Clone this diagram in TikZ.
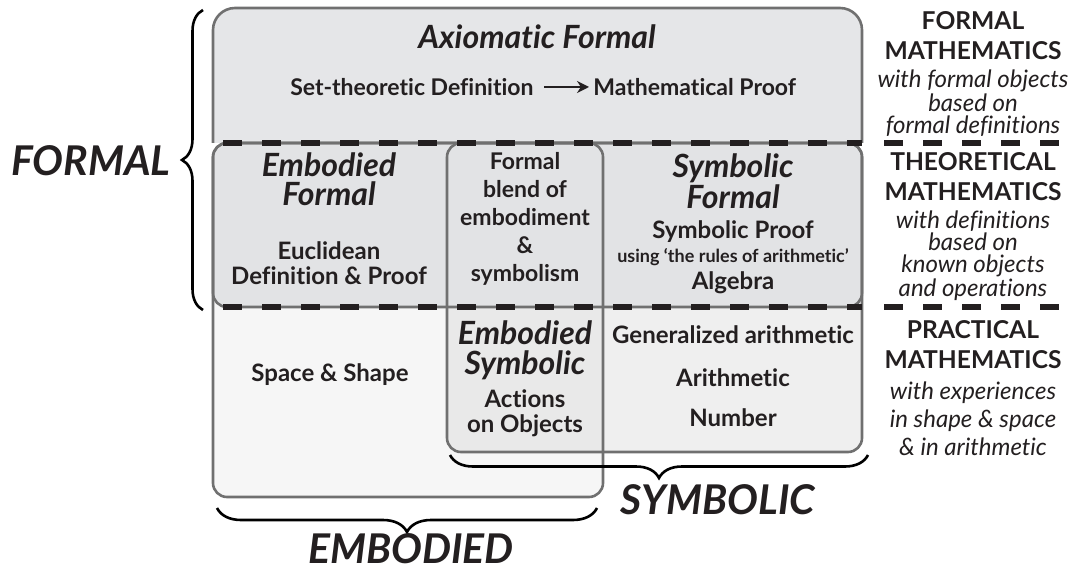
\documentclass[tikz,border=0pt]{standalone}
\usepackage{fontspec}
\setmainfont{Lato}[Ligatures=NoCommon]
\usetikzlibrary{arrows.meta,decorations.pathreplacing}
\definecolor{AxFill}{HTML}{E5E6E8}
\definecolor{FmFill}{HTML}{E2E3E5}
\definecolor{EmFill}{HTML}{F6F6F6}
\definecolor{SyFill}{HTML}{EFEFEF}
\definecolor{EsFill}{HTML}{E9E9E9}
\definecolor{BoxLine}{HTML}{707070}
\definecolor{Ink}{HTML}{231F20}

\begin{document}
\begin{tikzpicture}[x=0.5pt,y=-0.5pt,
  boxline/.style={draw=BoxLine,line width=1.3pt},
  cut/.style={draw=Ink,line width=2.6pt,dash pattern=on 9.5pt off 10pt},
  head/.style={font=\fontsize{16}{14.5}\selectfont\bfseries\itshape,align=center,inner sep=0pt,text=Ink},
  body/.style={font=\fontsize{12}{12.5}\selectfont\bfseries,align=center,inner sep=0pt,text=Ink},
  huge/.style={font=\fontsize{20.5}{22}\selectfont\bfseries\itshape,inner sep=0pt,text=Ink},
  coltitle/.style={font=\fontsize{12.3}{15}\selectfont\bfseries,align=center,inner sep=0pt,text=Ink},
  coldesc/.style={font=\fontsize{12}{11}\selectfont\itshape,align=center,inner sep=0pt,text=Ink},
  curly/.style={decorate,draw=black,line width=1.3pt},
]
\useasboundingbox (0,0) rectangle (1080,571);
% corners of the regions
\coordinate (E-nw) at (213,143); \coordinate (E-se) at (603,497);
\coordinate (S-nw) at (447,143); \coordinate (S-se) at (862,452);
\coordinate (F-se) at (862,307);
% region fills
\fill[EmFill,rounded corners=7pt] (E-nw) rectangle (E-se);
\fill[SyFill,rounded corners=7pt] (S-nw) rectangle (S-se);
\begin{scope}
  \clip[rounded corners=7pt] (S-nw) rectangle (S-se);
  \fill[EsFill,rounded corners=7pt] (E-nw) rectangle (E-se);
\end{scope}
\fill[FmFill,rounded corners=7pt] (E-nw) rectangle (F-se);
\begin{scope}
  \clip (200,0) rectangle (880,143);
  \filldraw[fill=AxFill,boxline,rounded corners=11pt] (213,8) rectangle (862,180);
\end{scope}
% region borders
\draw[boxline,rounded corners=7pt] (E-nw) rectangle (E-se);
\draw[boxline,rounded corners=7pt] (S-nw) rectangle (S-se);
\draw[boxline,rounded corners=7pt] (E-nw) rectangle (F-se);
% level cuts
\draw[cut] (223,143) -- (862,143);
\draw[cut] (223,307) -- (862,307);
\draw[cut] (884,143) -- (1060,143);
\draw[cut] (884,307) -- (1060,307);

% formal world
\node[head] (axf) at (537,37) {Axiomatic Formal};
\node[body,font=\fontsize{11.5}{12.5}\selectfont\bfseries,anchor=east] (setdef) at (534,87) {Set-theoretic Definition};
\node[body,font=\fontsize{11.5}{12.5}\selectfont\bfseries,anchor=west] (mproof) at (593,87) {Mathematical Proof};
\draw[-{Stealth[length=6pt,width=6pt]},line width=1.2pt,draw=Ink,shorten <=5pt,shorten >=2pt] (setdef) -- (mproof);
\node[head] (embf) at (329,179) {Embodied\\Formal};
\node[body] (eucl) at (329,263) {Euclidean\\Definition \& Proof};
\node[body,font=\fontsize{11.5}{14}\selectfont\bfseries] (blend) at (525,219) {Formal\\blend of\\embodiment\\\&\\symbolism};
\node[head] (symf) at (733,181) {Symbolic\\Formal};
\node[body] (symproof) at (733,232) {Symbolic Proof};
\node[body,font=\fontsize{9}{10}\selectfont\bfseries] (rules) at (733,257) {using ‘the rules of arithmetic’};
\node[body] (algebra) at (733,283) {Algebra};

% embodied and symbolic worlds
\node[body] (space) at (330,375) {Space \& Shape};
\node[head,font=\fontsize{16}{15}\selectfont\bfseries\itshape] (embs) at (525,350) {Embodied\\Symbolic};
\node[body] (actions) at (525,413) {Actions\\on Objects};
\node[body] (genar) at (733,335) {Generalized arithmetic};
\node[body] (arith) at (733,378) {Arithmetic};
\node[body] (number) at (733,418) {Number};

% right column
\node[coltitle] (fm) at (973,36) {FORMAL\\MATHEMATICS};
\node[coldesc] (fmdesc) at (973,103) {with formal objects\\based on\\formal definitions};
\node[coltitle] (tm) at (973,177) {THEORETICAL\\MATHEMATICS};
\node[coldesc] (tmdesc) at (973,256) {with definitions\\based on\\known objects\\and operations};
\node[coltitle] (pm) at (973,345) {PRACTICAL\\MATHEMATICS};
\node[coldesc,font=\fontsize{12}{14}\selectfont\itshape] (pmdesc) at (973,419) {with experiences\\in shape \& space\\\& in arithmetic};

% braces and world names
\draw[curly,decoration={brace,amplitude=10.5pt}] (203,310) -- (203,10);
\node[huge] (formal) at (91,161) {FORMAL};
\draw[curly,decoration={brace,amplitude=12pt}] (597,508) -- (217,508);
\node[huge] (embodied) at (411,549) {EMBODIED};
\draw[curly,decoration={brace,amplitude=11.5pt}] (868,455) -- (450,455);
\node[huge] (symbolic) at (718,500) {SYMBOLIC};
\end{tikzpicture}
\end{document}
